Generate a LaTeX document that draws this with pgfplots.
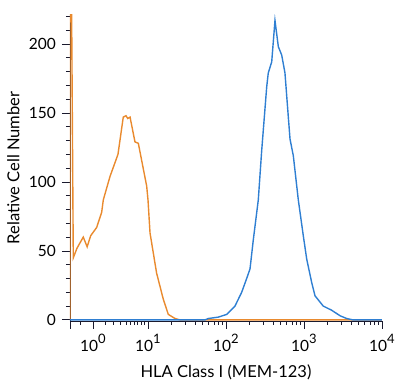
\documentclass[border=0pt]{standalone}
\usepackage{fontspec}
\setmainfont{Lato}
\usepackage{pgfplots}
\pgfplotsset{compat=1.18}
\definecolor{orng}{HTML}{E98A2E}
\definecolor{blu}{HTML}{2F7FD2}
\definecolor{axc}{HTML}{1A1A2E}
\newcommand{\ex}[1]{10\raisebox{1.0ex}{\fontsize{13}{13}\selectfont #1}}
\begin{document}
\fontsize{15}{18}\selectfont
\begin{tikzpicture}
\begin{axis}[
  scale only axis,
  width=312pt, height=306pt,
  xmin=0, xmax=4, ymin=-0.8, ymax=221,
  axis x line*=bottom, axis y line*=left,
  axis line style={axc, line width=0.9pt},
  tick style={axc, line width=0.8pt},
  tick align=outside,
  major tick length=8pt, minor tick length=4pt,
  xtick={0,0.295,1,2,3,4},
  xticklabels={,\ex{0},\ex{1},\ex{2},\ex{3},\ex{4}},
  minor xtick={0.13,0.45,0.56,0.645,0.72,0.775,0.83,0.87,0.91,0.955,
    1.301,1.477,1.602,1.699,1.778,1.845,1.903,1.954,
    2.301,2.477,2.602,2.699,2.778,2.845,2.903,2.954,
    3.301,3.477,3.602,3.699,3.778,3.845,3.903,3.954},
  ytick={0,50,100,150,200},
  minor ytick={10,20,30,40,60,70,80,90,110,120,130,140,160,170,180,190,210,220},
  /pgf/number format/assume math mode=true,
  ticklabel style={font=\fontsize{15.5}{18}\selectfont},
  xticklabel style={yshift=0pt},
  yticklabel style={xshift=-1pt},
  xlabel={HLA Class I (MEM-123)},
  ylabel={Relative Cell Number},
  label style={font=\fontsize{16.5}{19}\selectfont},
  xlabel style={yshift=-3pt},
  ylabel style={yshift=-1pt},
]
\addplot[orng, line width=1.4pt] coordinates {
 (0,0) (0,400) (0.042,45) (0.09,52) (0.17,60) (0.22,53) (0.265,61) (0.342,67)
 (0.406,78) (0.427,87) (0.513,104) (0.577,114) (0.615,120) (0.683,147)
 (0.718,148) (0.74,146) (0.77,147) (0.833,129) (0.876,128) (0.983,97)
 (1.0,87) (1.026,63) (1.11,34) (1.196,15) (1.26,4) (1.346,1) (1.41,0) (4,0)
};
\addplot[blu, line width=1.4pt] coordinates {
 (0,0) (1.731,0) (1.773,1) (1.901,2) (2.009,4) (2.115,10) (2.201,20)
 (2.265,30) (2.308,37) (2.35,58) (2.414,87) (2.458,123) (2.522,169)
 (2.542,179) (2.586,187) (2.628,217) (2.671,198) (2.714,192) (2.756,179)
 (2.799,147) (2.821,131) (2.863,119) (2.927,87) (2.991,61) (3.035,44)
 (3.099,27) (3.141,17.5) (3.247,10) (3.355,7) (3.462,3) (3.547,1)
 (3.628,0) (4,0)
};
\end{axis}
\pgfresetboundingbox
\path ([xshift=-70pt,yshift=-70pt]current axis.south west) rectangle ([xshift=18pt,yshift=15pt]current axis.north east);
\end{tikzpicture}
\end{document}
